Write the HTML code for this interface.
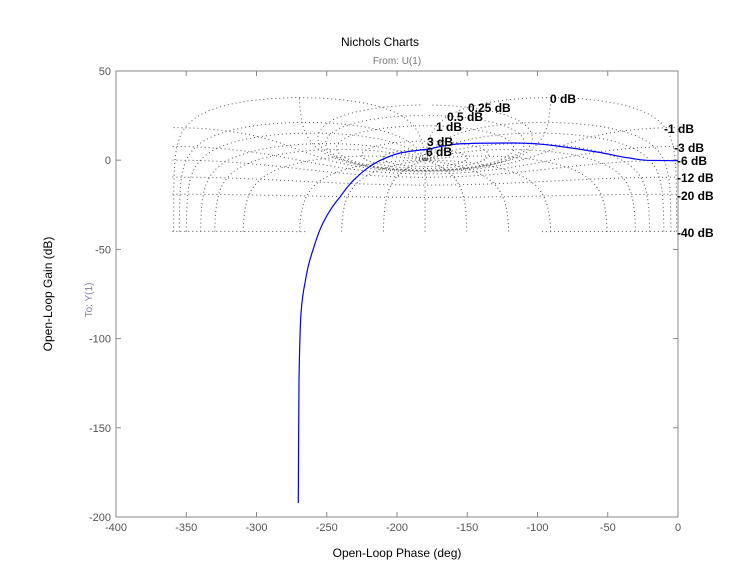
<!DOCTYPE html>
<html><head><meta charset="utf-8"><style>
html,body{margin:0;padding:0;background:#fff;}
svg{display:block;font-family:"Liberation Sans",Arial,sans-serif;}
</style></head><body>
<svg id="s" width="730" height="582" viewBox="0 0 730 582" xmlns="http://www.w3.org/2000/svg">
<rect width="730" height="582" fill="#fff"/>
<g id="grid" fill="none" stroke="#555" stroke-width="1" stroke-dasharray="1 3"></g>
<rect x="116" y="71" width="562" height="446" fill="none" stroke="#888" stroke-width="1"/>
<g id="ticks" stroke="#888" stroke-width="1"></g>
<g id="tl" font-size="11" fill="#555"></g>
<path d="M298.3,503 L298.6,440 L299,380 C299.5,350 300,330 301,313 C302,300 303.5,290 305,283 C307,270 309.5,260 313,250 C316,240 319,231 323,223 C328,213 333,205 340,197 C345,190 350,183 357,177 C363,171 370,166 377,162 C385,158 392,155 400,153 C410,151 420,150 430,149 C440,146 448,145 457,144 C475,143 495,143 513,143 C530,143 543,144 557,146 C572,148 585,150 597,152 C610,154 620,157 630,158 C637,159.5 642,160 647,160.3 C660,160.6 670,160.7 678,160.7" fill="none" stroke="#0000ff" stroke-width="1.2"/>
<g font-size="12" font-weight="bold" fill="#000">
<text x="550" y="103">0 dB</text>
<text x="468" y="112">0.25 dB</text>
<text x="447" y="121">0.5 dB</text>
<text x="436" y="131">1 dB</text>
<text x="427" y="146">3 dB</text>
<text x="426" y="156">6 dB</text>
<text x="664" y="133">-1 dB</text>
<text x="674" y="152">-3 dB</text>
<text x="677" y="165">-6 dB</text>
<text x="677" y="182">-12 dB</text>
<text x="677" y="200">-20 dB</text>
<text x="677" y="237">-40 dB</text>
</g>
<text x="380" y="46" font-size="12" text-anchor="middle" fill="#000">Nichols Charts</text>
<text x="397" y="64" font-size="10" text-anchor="middle" fill="#777">From: U(1)</text>
<text transform="translate(92,300) rotate(-90)" font-size="10" text-anchor="middle" fill="#8080a0">To: Y(1)</text>
<text transform="translate(52,294) rotate(-90)" font-size="12" text-anchor="middle" fill="#000">Open-Loop Gain (dB)</text>
<text x="397" y="557" font-size="12" text-anchor="middle" fill="#000">Open-Loop Phase (deg)</text>
</svg>
<script>
(function(){
var NS="http://www.w3.org/2000/svg";
function X(p){return 678+p*1.405;}
function Y(g){return 160.2-g*1.784;}
var grid=document.getElementById('grid');
var GMAX=35.5,GMIN=-40;
function addPoly(pts){ if(pts.length<2)return; var e=document.createElementNS(NS,'polyline');
 e.setAttribute('points',pts.map(function(q){return q[0].toFixed(1)+','+q[1].toFixed(1);}).join(' ')); grid.appendChild(e);}
function L(mdb,phdeg){var m=Math.pow(10,mdb/20),t=phdeg*Math.PI/180;var tr=m*Math.cos(t),ti=m*Math.sin(t);
 var dr=1-tr,di=-ti;var d=dr*dr+di*di;var lr=(tr*dr+ti*di)/d,li=(ti*dr-tr*di)/d;
 var g=10*Math.log10(lr*lr+li*li);var a=Math.atan2(li,lr)*180/Math.PI;if(a>0)a-=360;return [a,g];}
function trace(fn,n){var pts=[],prev=null;for(var i=0;i<=n;i++){var r=fn(i/n);var a=r[0],g=r[1];
 var ok=isFinite(g)&&g>=GMIN-0.01&&g<=GMAX&&a>=-360&&a<=0;
 if(prev&&Math.abs(a-prev[0])>90){addPoly(pts);pts=[];}
 if(ok){pts.push([X(a),Y(Math.max(g,GMIN))]);}else{addPoly(pts);pts=[];}
 prev=r;}addPoly(pts);}
[6,3,1,0.5,0.25,0,-1,-3,-6,-12,-20,-40].forEach(function(M){
 trace(function(u){return L(M,-359.9+u*359.8);},1500);});
[-1,-5,-10,-20,-30,-50,-90,-120,-150,-180,-210,-240,-270,-310,-330,-340,-350,-355,-359].forEach(function(P){
 trace(function(u){return L(-45+u*105,P);},2000);});
var tk=document.getElementById('ticks'),tl=document.getElementById('tl');
function line(x1,y1,x2,y2){var e=document.createElementNS(NS,'line');e.setAttribute('x1',x1);e.setAttribute('y1',y1);e.setAttribute('x2',x2);e.setAttribute('y2',y2);tk.appendChild(e);}
function txt(x,y,s,anc){var e=document.createElementNS(NS,'text');e.setAttribute('x',x);e.setAttribute('y',y);e.setAttribute('text-anchor',anc);e.textContent=s;tl.appendChild(e);}
for(var p=-400;p<=0;p+=50){var x=X(p);line(x,517,x,512);line(x,71,x,76);txt(x,531,String(p),'middle');}
for(var g=50;g>=-200;g-=50){var y=Y(g);line(116,y,121,y);line(678,y,673,y);txt(111,y+4,String(g),'end');}
})();
</script>
</body></html>
